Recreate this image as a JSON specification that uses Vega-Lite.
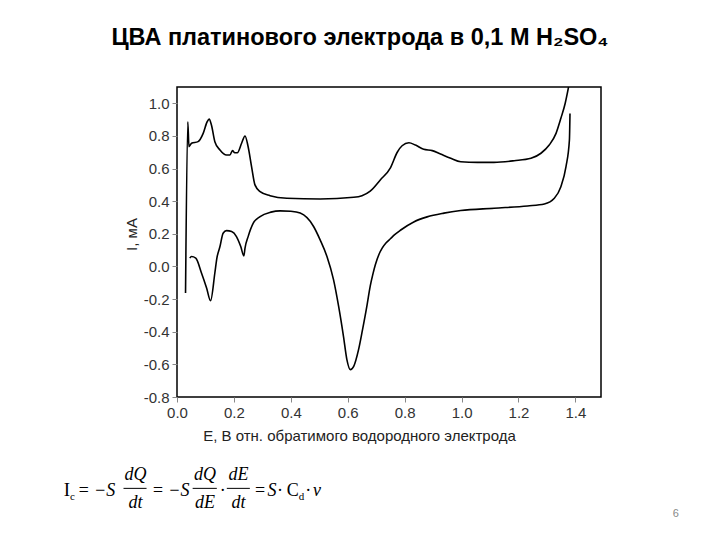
{
  "$schema": "https://vega.github.io/schema/vega-lite/v6.json",
  "autosize": {"type": "none"},
  "padding": {"left": 177, "top": 87, "right": 119, "bottom": 143},
  "width": 424,
  "height": 310,
  "background": "white",
  "title": {"text": "ЦВА платинового электрода в 0,1 М H₂SO₄", "font": "Liberation Sans", "fontSize": 23.5, "fontWeight": "bold", "color": "black", "anchor": "middle", "dx": -29, "offset": 19, "baseline": "alphabetic"},
  "layer": [
    {
      "data": {"values": [
        {"sweep": "anodic", "E": 0.030, "I": -0.163},
        {"sweep": "anodic", "E": 0.038, "I": 0.887},
        {"sweep": "anodic", "E": 0.042, "I": 0.734},
        {"sweep": "anodic", "E": 0.051, "I": 0.755},
        {"sweep": "anodic", "E": 0.074, "I": 0.765},
        {"sweep": "anodic", "E": 0.092, "I": 0.816},
        {"sweep": "anodic", "E": 0.106, "I": 0.887},
        {"sweep": "anodic", "E": 0.113, "I": 0.903},
        {"sweep": "anodic", "E": 0.121, "I": 0.867},
        {"sweep": "anodic", "E": 0.133, "I": 0.765},
        {"sweep": "anodic", "E": 0.151, "I": 0.714},
        {"sweep": "anodic", "E": 0.174, "I": 0.683},
        {"sweep": "anodic", "E": 0.186, "I": 0.683},
        {"sweep": "anodic", "E": 0.195, "I": 0.710},
        {"sweep": "anodic", "E": 0.203, "I": 0.697},
        {"sweep": "anodic", "E": 0.212, "I": 0.697},
        {"sweep": "anodic", "E": 0.227, "I": 0.755},
        {"sweep": "anodic", "E": 0.239, "I": 0.800},
        {"sweep": "anodic", "E": 0.250, "I": 0.734},
        {"sweep": "anodic", "E": 0.262, "I": 0.612},
        {"sweep": "anodic", "E": 0.274, "I": 0.500},
        {"sweep": "anodic", "E": 0.292, "I": 0.459},
        {"sweep": "anodic", "E": 0.327, "I": 0.434},
        {"sweep": "anodic", "E": 0.386, "I": 0.418},
        {"sweep": "anodic", "E": 0.503, "I": 0.414},
        {"sweep": "anodic", "E": 0.621, "I": 0.424},
        {"sweep": "anodic", "E": 0.650, "I": 0.434},
        {"sweep": "anodic", "E": 0.679, "I": 0.462},
        {"sweep": "anodic", "E": 0.715, "I": 0.532},
        {"sweep": "anodic", "E": 0.750, "I": 0.605},
        {"sweep": "anodic", "E": 0.774, "I": 0.700},
        {"sweep": "anodic", "E": 0.791, "I": 0.740},
        {"sweep": "anodic", "E": 0.815, "I": 0.758},
        {"sweep": "anodic", "E": 0.838, "I": 0.744},
        {"sweep": "anodic", "E": 0.867, "I": 0.718},
        {"sweep": "anodic", "E": 0.897, "I": 0.710},
        {"sweep": "anodic", "E": 0.926, "I": 0.689},
        {"sweep": "anodic", "E": 0.962, "I": 0.663},
        {"sweep": "anodic", "E": 0.997, "I": 0.642},
        {"sweep": "anodic", "E": 1.056, "I": 0.638},
        {"sweep": "anodic", "E": 1.114, "I": 0.638},
        {"sweep": "anodic", "E": 1.185, "I": 0.648},
        {"sweep": "anodic", "E": 1.244, "I": 0.663},
        {"sweep": "anodic", "E": 1.279, "I": 0.694},
        {"sweep": "anodic", "E": 1.308, "I": 0.744},
        {"sweep": "anodic", "E": 1.332, "I": 0.816},
        {"sweep": "anodic", "E": 1.349, "I": 0.908},
        {"sweep": "anodic", "E": 1.364, "I": 0.999},
        {"sweep": "anodic", "E": 1.376, "I": 1.100},
        {"sweep": "cathodic", "E": 0.045, "I": 0.051},
        {"sweep": "cathodic", "E": 0.051, "I": 0.061},
        {"sweep": "cathodic", "E": 0.066, "I": 0.051},
        {"sweep": "cathodic", "E": 0.086, "I": -0.040},
        {"sweep": "cathodic", "E": 0.104, "I": -0.132},
        {"sweep": "cathodic", "E": 0.118, "I": -0.210},
        {"sweep": "cathodic", "E": 0.133, "I": -0.040},
        {"sweep": "cathodic", "E": 0.140, "I": 0.050},
        {"sweep": "cathodic", "E": 0.151, "I": 0.122},
        {"sweep": "cathodic", "E": 0.162, "I": 0.204},
        {"sweep": "cathodic", "E": 0.174, "I": 0.220},
        {"sweep": "cathodic", "E": 0.192, "I": 0.214},
        {"sweep": "cathodic", "E": 0.209, "I": 0.183},
        {"sweep": "cathodic", "E": 0.224, "I": 0.122},
        {"sweep": "cathodic", "E": 0.235, "I": 0.065},
        {"sweep": "cathodic", "E": 0.239, "I": 0.113},
        {"sweep": "cathodic", "E": 0.250, "I": 0.183},
        {"sweep": "cathodic", "E": 0.268, "I": 0.265},
        {"sweep": "cathodic", "E": 0.292, "I": 0.306},
        {"sweep": "cathodic", "E": 0.330, "I": 0.333},
        {"sweep": "cathodic", "E": 0.362, "I": 0.341},
        {"sweep": "cathodic", "E": 0.400, "I": 0.338},
        {"sweep": "cathodic", "E": 0.433, "I": 0.327},
        {"sweep": "cathodic", "E": 0.480, "I": 0.245},
        {"sweep": "cathodic", "E": 0.503, "I": 0.163},
        {"sweep": "cathodic", "E": 0.527, "I": 0.061},
        {"sweep": "cathodic", "E": 0.550, "I": -0.081},
        {"sweep": "cathodic", "E": 0.568, "I": -0.245},
        {"sweep": "cathodic", "E": 0.585, "I": -0.428},
        {"sweep": "cathodic", "E": 0.597, "I": -0.571},
        {"sweep": "cathodic", "E": 0.609, "I": -0.632},
        {"sweep": "cathodic", "E": 0.621, "I": -0.612},
        {"sweep": "cathodic", "E": 0.638, "I": -0.510},
        {"sweep": "cathodic", "E": 0.652, "I": -0.387},
        {"sweep": "cathodic", "E": 0.668, "I": -0.235},
        {"sweep": "cathodic", "E": 0.679, "I": -0.120},
        {"sweep": "cathodic", "E": 0.688, "I": -0.050},
        {"sweep": "cathodic", "E": 0.697, "I": 0.010},
        {"sweep": "cathodic", "E": 0.710, "I": 0.075},
        {"sweep": "cathodic", "E": 0.721, "I": 0.112},
        {"sweep": "cathodic", "E": 0.735, "I": 0.145},
        {"sweep": "cathodic", "E": 0.750, "I": 0.170},
        {"sweep": "cathodic", "E": 0.765, "I": 0.195},
        {"sweep": "cathodic", "E": 0.785, "I": 0.222},
        {"sweep": "cathodic", "E": 0.832, "I": 0.273},
        {"sweep": "cathodic", "E": 0.879, "I": 0.304},
        {"sweep": "cathodic", "E": 0.938, "I": 0.327},
        {"sweep": "cathodic", "E": 0.997, "I": 0.343},
        {"sweep": "cathodic", "E": 1.114, "I": 0.357},
        {"sweep": "cathodic", "E": 1.232, "I": 0.371},
        {"sweep": "cathodic", "E": 1.291, "I": 0.383},
        {"sweep": "cathodic", "E": 1.326, "I": 0.418},
        {"sweep": "cathodic", "E": 1.349, "I": 0.489},
        {"sweep": "cathodic", "E": 1.367, "I": 0.612},
        {"sweep": "cathodic", "E": 1.379, "I": 0.775},
        {"sweep": "cathodic", "E": 1.381, "I": 0.938}
      ]},
      "mark": {"type": "line", "interpolate": "monotone", "color": "black", "strokeWidth": 1.6, "clip": true},
      "encoding": {
        "x": {"field": "E", "type": "quantitative", "scale": {"domain": [0, 1.49], "nice": false, "zero": false},
          "axis": {"values": [0, 0.2, 0.4, 0.6, 0.8, 1, 1.2, 1.4], "tickCount": 20, "format": ".1f", "labelFlush": false, "labelOverlap": false, "domain": false, "grid": false, "tickSize": 5, "tickColor": "#888", "labelFont": "Liberation Sans", "labelFontSize": 15, "labelColor": "#333", "labelPadding": 3,
            "title": "E, В отн. обратимого водородного электрода", "titleFont": "Liberation Sans", "titleFontSize": 15, "titleFontWeight": "normal", "titleColor": "#222", "titleX": 182, "titlePadding": 8}},
        "y": {"field": "I", "type": "quantitative", "scale": {"domain": [-0.8, 1.1], "nice": false, "zero": false},
          "axis": {"values": [-0.8, -0.6, -0.4, -0.2, 0, 0.2, 0.4, 0.6, 0.8, 1], "tickCount": 20, "labelExpr": "replace(format(datum.value, '.1f'), '−', '-')", "labelOverlap": false, "domain": false, "grid": false, "tickSize": 5, "tickColor": "#888", "labelFont": "Liberation Sans", "labelFontSize": 15, "labelColor": "#333", "labelPadding": 3,
            "title": "I, мА", "titleFont": "Liberation Sans", "titleFontSize": 15, "titleFontWeight": "normal", "titleColor": "#222", "titleX": -38, "titleY": 147, "titleAngle": -90, "titleBaseline": "bottom", "titleAlign": "center"}},
        "detail": {"field": "sweep"}
      }
    },
    {"data": {"values": [{}]}, "mark": {"type": "text", "font": "Liberation Serif", "fontSize": 19, "align": "left", "baseline": "alphabetic", "color": "black"},
      "encoding": {"x": {"datum": -0.398}, "y": {"datum": -1.408}, "text": {"value": "I"}}},
    {"data": {"values": [{}]}, "mark": {"type": "text", "font": "Liberation Serif", "fontSize": 11, "align": "left", "baseline": "alphabetic", "color": "black"},
      "encoding": {"x": {"datum": -0.376}, "y": {"datum": -1.433}, "text": {"value": "c"}}},
    {"data": {"values": [{}]}, "mark": {"type": "text", "font": "Liberation Serif", "fontSize": 18, "fontStyle": "italic", "align": "left", "baseline": "alphabetic", "color": "black"},
      "encoding": {"x": {"datum": -0.350}, "y": {"datum": -1.408}, "text": {"value": "= −S"}}},
    {"data": {"values": [{}]}, "mark": {"type": "text", "font": "Liberation Serif", "fontSize": 18, "fontStyle": "italic", "align": "center", "baseline": "alphabetic", "color": "black"},
      "encoding": {"x": {"datum": -0.146}, "y": {"datum": -1.311}, "text": {"value": "dQ"}}},
    {"data": {"values": [{}]}, "mark": {"type": "rule", "color": "black", "strokeWidth": 1},
      "encoding": {"x": {"datum": -0.188}, "x2": {"datum": -0.107}, "y": {"datum": -1.360}}},
    {"data": {"values": [{}]}, "mark": {"type": "text", "font": "Liberation Serif", "fontSize": 18, "fontStyle": "italic", "align": "center", "baseline": "alphabetic", "color": "black"},
      "encoding": {"x": {"datum": -0.146}, "y": {"datum": -1.482}, "text": {"value": "dt"}}},
    {"data": {"values": [{}]}, "mark": {"type": "text", "font": "Liberation Serif", "fontSize": 18, "fontStyle": "italic", "align": "left", "baseline": "alphabetic", "color": "black"},
      "encoding": {"x": {"datum": -0.089}, "y": {"datum": -1.408}, "text": {"value": "= −S"}}},
    {"data": {"values": [{}]}, "mark": {"type": "text", "font": "Liberation Serif", "fontSize": 18, "fontStyle": "italic", "align": "center", "baseline": "alphabetic", "color": "black"},
      "encoding": {"x": {"datum": 0.098}, "y": {"datum": -1.311}, "text": {"value": "dQ"}}},
    {"data": {"values": [{}]}, "mark": {"type": "rule", "color": "black", "strokeWidth": 1},
      "encoding": {"x": {"datum": 0.055}, "x2": {"datum": 0.140}, "y": {"datum": -1.360}}},
    {"data": {"values": [{}]}, "mark": {"type": "text", "font": "Liberation Serif", "fontSize": 18, "fontStyle": "italic", "align": "center", "baseline": "alphabetic", "color": "black"},
      "encoding": {"x": {"datum": 0.098}, "y": {"datum": -1.482}, "text": {"value": "dE"}}},
    {"data": {"values": [{}]}, "mark": {"type": "text", "font": "Liberation Serif", "fontSize": 18, "align": "center", "baseline": "alphabetic", "color": "black"},
      "encoding": {"x": {"datum": 0.161}, "y": {"datum": -1.408}, "text": {"value": "·"}}},
    {"data": {"values": [{}]}, "mark": {"type": "text", "font": "Liberation Serif", "fontSize": 18, "fontStyle": "italic", "align": "center", "baseline": "alphabetic", "color": "black"},
      "encoding": {"x": {"datum": 0.216}, "y": {"datum": -1.311}, "text": {"value": "dE"}}},
    {"data": {"values": [{}]}, "mark": {"type": "rule", "color": "black", "strokeWidth": 1},
      "encoding": {"x": {"datum": 0.175}, "x2": {"datum": 0.256}, "y": {"datum": -1.360}}},
    {"data": {"values": [{}]}, "mark": {"type": "text", "font": "Liberation Serif", "fontSize": 18, "fontStyle": "italic", "align": "center", "baseline": "alphabetic", "color": "black"},
      "encoding": {"x": {"datum": 0.216}, "y": {"datum": -1.482}, "text": {"value": "dt"}}},
    {"data": {"values": [{}]}, "mark": {"type": "text", "font": "Liberation Serif", "fontSize": 18, "align": "left", "baseline": "alphabetic", "color": "black"},
      "encoding": {"x": {"datum": 0.274}, "y": {"datum": -1.408}, "text": {"value": "="}}},
    {"data": {"values": [{}]}, "mark": {"type": "text", "font": "Liberation Serif", "fontSize": 18, "fontStyle": "italic", "align": "left", "baseline": "alphabetic", "color": "black"},
      "encoding": {"x": {"datum": 0.318}, "y": {"datum": -1.408}, "text": {"value": "S"}}},
    {"data": {"values": [{}]}, "mark": {"type": "text", "font": "Liberation Serif", "fontSize": 18, "align": "center", "baseline": "alphabetic", "color": "black"},
      "encoding": {"x": {"datum": 0.362}, "y": {"datum": -1.408}, "text": {"value": "·"}}},
    {"data": {"values": [{}]}, "mark": {"type": "text", "font": "Liberation Serif", "fontSize": 18, "align": "left", "baseline": "alphabetic", "color": "black"},
      "encoding": {"x": {"datum": 0.386}, "y": {"datum": -1.408}, "text": {"value": "C"}}},
    {"data": {"values": [{}]}, "mark": {"type": "text", "font": "Liberation Serif", "fontSize": 11, "align": "left", "baseline": "alphabetic", "color": "black"},
      "encoding": {"x": {"datum": 0.428}, "y": {"datum": -1.433}, "text": {"value": "d"}}},
    {"data": {"values": [{}]}, "mark": {"type": "text", "font": "Liberation Serif", "fontSize": 18, "align": "center", "baseline": "alphabetic", "color": "black"},
      "encoding": {"x": {"datum": 0.461}, "y": {"datum": -1.408}, "text": {"value": "·"}}},
    {"data": {"values": [{}]}, "mark": {"type": "text", "font": "Liberation Serif", "fontSize": 18, "fontStyle": "italic", "align": "left", "baseline": "alphabetic", "color": "black"},
      "encoding": {"x": {"datum": 0.478}, "y": {"datum": -1.408}, "text": {"value": "ν"}}},
    {"data": {"values": [{}]}, "mark": {"type": "text", "font": "Liberation Sans", "fontSize": 11, "align": "center", "baseline": "alphabetic", "color": "#888"},
      "encoding": {"x": {"datum": 1.753}, "y": {"datum": -1.537}, "text": {"value": "6"}}}
  ],
  "config": {"view": {"stroke": "black", "strokeWidth": 1.5}, "axisY": {"labelOverlap": false}}
}
